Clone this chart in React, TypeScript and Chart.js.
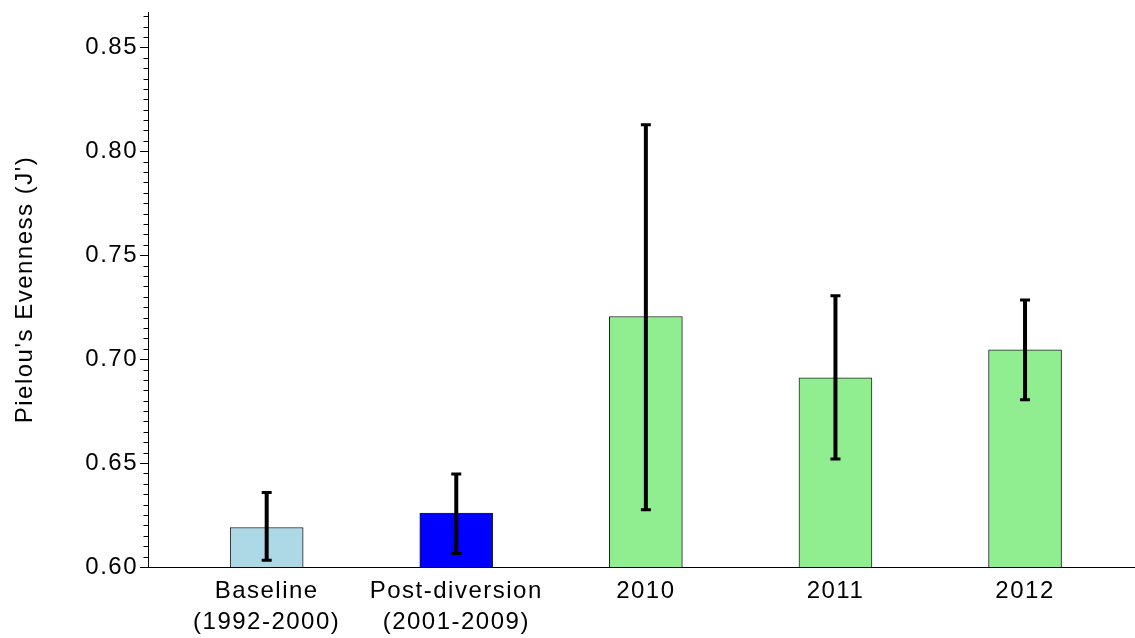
import React, { useEffect, useRef } from "react";
import { Chart, registerables } from "chart.js";

Chart.register(...registerables);

const categories: (string | string[])[] = [
  ["Baseline", "(1992-2000)"],
  ["Post-diversion", "(2001-2009)"],
  "2010",
  "2011",
  "2012",
];
const means = [0.619, 0.626, 0.7205, 0.691, 0.7045];
const errLow = [0.6032, 0.6065, 0.6275, 0.652, 0.6805];
const errHigh = [0.6359, 0.6448, 0.8127, 0.7305, 0.7285];
const barColors = ["#ADD8E6", "#0000FF", "#90EE90", "#90EE90", "#90EE90"];
const yTicks = [0.6, 0.65, 0.7, 0.75, 0.8, 0.85];

const FONT = "Arial, 'Liberation Sans', sans-serif";
const SPACING = "1.5px";

const letterSpacingPlugin = {
  id: "letterSpacing",
  beforeLayout(chart: any) {
    chart.ctx.letterSpacing = SPACING;
  },
  beforeDraw(chart: any) {
    chart.ctx.letterSpacing = SPACING;
  },
};

const errorBarPlugin = {
  id: "errorBars",
  afterDatasetsDraw(chart: any) {
    const ctx = chart.ctx;
    const meta = chart.getDatasetMeta(0);
    const y = chart.scales.y;
    ctx.save();
    ctx.strokeStyle = "#000";
    meta.data.forEach((el: any, i: number) => {
      const x = el.x;
      const yl = y.getPixelForValue(errLow[i]);
      const yh = y.getPixelForValue(errHigh[i]);
      ctx.lineWidth = 4;
      ctx.beginPath();
      ctx.moveTo(x, yl);
      ctx.lineTo(x, yh);
      ctx.stroke();
      ctx.lineWidth = 3;
      ctx.beginPath();
      ctx.moveTo(x - 5, yl);
      ctx.lineTo(x + 5, yl);
      ctx.moveTo(x - 5, yh);
      ctx.lineTo(x + 5, yh);
      ctx.stroke();
    });
    ctx.restore();
  },
};

const minorTickPlugin = {
  id: "minorTicks",
  afterDraw(chart: any) {
    const ctx = chart.ctx;
    const y = chart.scales.y;
    const left = chart.chartArea.left;
    ctx.save();
    ctx.strokeStyle = "#000";
    ctx.lineWidth = 1;
    for (let k = 0; k <= 53; k++) {
      const v = 0.6 + k * 0.005;
      if (v > y.max) break;
      const py = Math.round(y.getPixelForValue(v)) + 0.5;
      const major = k % 10 === 0;
      ctx.beginPath();
      ctx.moveTo(left - (major ? 8 : 4.5), py);
      ctx.lineTo(left, py);
      ctx.stroke();
    }
    ctx.restore();
  },
};

export default function App() {
  const ref = useRef<HTMLCanvasElement>(null);
  useEffect(() => {
    if (!ref.current) return;
    const chart = new Chart(ref.current, {
      type: "bar",
      data: {
        datasets: [
          {
            data: means.map((v, i) => ({ x: i, y: v })),
            backgroundColor: barColors,
            borderColor: "#222",
            borderWidth: 1,
            barThickness: 73,
            base: 0.6,
          } as any,
        ],
      },
      options: {
        responsive: false,
        animation: false,
        layout: { padding: { top: 12, right: 0, left: 0, bottom: 0 } },
        plugins: { legend: { display: false }, tooltip: { enabled: false } },
        scales: {
          x: {
            type: "linear",
            offset: false,
            min: -0.626,
            max: 4.58,
            grid: { display: false, drawTicks: false, offset: false },
            border: { display: true, color: "#000", width: 1 },
            afterBuildTicks: (scale: any) => {
              scale.ticks = categories.map((_, i) => ({ value: i }));
            },
            afterFit: (scale: any) => {
              scale.height = 638 - 567;
              scale.paddingLeft = 0;
              scale.paddingRight = 0;
            },
            ticks: {
              autoSkip: false,
              maxRotation: 0,
              padding: 9,
              color: "#000",
              font: { family: FONT, size: 24, lineHeight: 1.3 },
              callback: (v: any) => categories[v as number],
            },
          },
          y: {
            min: 0.6,
            max: 0.867,
            afterBuildTicks: (scale: any) => {
              scale.ticks = yTicks.map((v) => ({ value: v }));
            },
            afterFit: (scale: any) => {
              scale.width = 148;
              scale.paddingTop = 0;
              scale.paddingBottom = 0;
            },
            grid: { display: false, drawTicks: false },
            border: { display: true, color: "#000", width: 1 },
            ticks: {
              padding: 10,
              color: "#000",
              font: { family: FONT, size: 24 },
              callback: (v: any) => Number(v).toFixed(2),
            },
            title: {
              display: true,
              text: "Pielou's Evenness (J')",
              color: "#000",
              font: { family: FONT, size: 24, lineHeight: 1.2 },
              padding: { top: 11, bottom: 0 },
            },
          },
        },
      },
      plugins: [letterSpacingPlugin, errorBarPlugin, minorTickPlugin],
    });
    return () => chart.destroy();
  }, []);
  return (
    <div style={{ position: "fixed", left: 0, top: 0, width: 1135, height: 638, background: "#fff" }}>
      <canvas ref={ref} width={1135} height={638} />
    </div>
  );
}
